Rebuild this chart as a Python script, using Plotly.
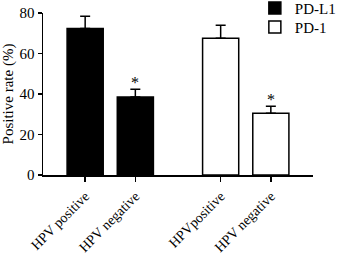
import plotly.graph_objects as go

categories = ["HPV positive", "HPV negative", "HPVpositive", "HPV negative"]
pdl1_values = [72.4, 38.5]
pdl1_err = [6.0, 3.8]
pd1_values = [67.5, 30.5]
pd1_err = [6.5, 3.5]
significance = ["", "*"]
y_ticks = [0, 20, 40, 60, 80]

# layout: two bars per group, gap between groups
xpos = [0, 1, 2.7, 3.7]
font = "Liberation Serif, Times New Roman, serif"

fig = go.Figure()
fig.add_trace(go.Bar(
    x=xpos[:2], y=pdl1_values, name="PD-L1", width=0.72, legend="legend",
    marker=dict(color="black", line=dict(color="black", width=1.5)),
    error_y=dict(type="data", array=pdl1_err, arrayminus=[0, 0], symmetric=False,
                 color="black", thickness=1.5, width=5),
))
fig.add_trace(go.Bar(
    x=xpos[2:], y=pd1_values, name="PD-1", width=0.72, legend="legend2",
    marker=dict(color="white", line=dict(color="black", width=1.5)),
    error_y=dict(type="data", array=pd1_err, arrayminus=[0, 0], symmetric=False,
                 color="black", thickness=1.5, width=5),
))

for xs, vals, errs in [(xpos[:2], pdl1_values, pdl1_err), (xpos[2:], pd1_values, pd1_err)]:
    for x, v, e, s in zip(xs, vals, errs, significance):
        if s:
            fig.add_annotation(x=x, y=v + e, text=s, showarrow=False, yanchor="bottom",
                               yshift=-4, font=dict(size=16, color="black", family=font))

legend_style = dict(xref="container", yref="container", xanchor="left", yanchor="middle",
                    bgcolor="rgba(255,255,255,0)", font=dict(size=15, family=font, color="black"))

fig.update_layout(
    width=338, height=254,
    margin=dict(l=43, r=25, t=13, b=79, autoexpand=False),
    plot_bgcolor="white", paper_bgcolor="white",
    font=dict(family=font, color="black", size=15),
    barmode="overlay",
    showlegend=True,
    legend=dict(x=0.754, y=0.968, **legend_style),
    legend2=dict(x=0.754, y=0.893, **legend_style),
)
fig.update_xaxes(
    range=[-0.84, 4.54], tickvals=xpos, ticktext=categories, tickangle=-45,
    showline=True, linecolor="black", linewidth=1.5, ticks="outside", ticklen=5,
    tickwidth=1.5, tickcolor="black", showgrid=False, zeroline=False, automargin=False,
    tickfont=dict(size=14, family=font), ticklabelstandoff=1,
)
fig.update_yaxes(
    range=[0, 80], tickvals=y_ticks, automargin=False,
    title=dict(text="Positive rate (%)", font=dict(size=15), standoff=2),
    showline=True, linecolor="black", linewidth=1.5, ticks="outside", ticklen=4,
    tickwidth=1.5, tickcolor="black", showgrid=False, zeroline=False,
    tickfont=dict(size=15, family=font), ticklabelstandoff=0,
)

fig.write_html("out.html", config={"displayModeBar": False, "staticPlot": True},
               post_script="document.body.style.margin='0px';")
